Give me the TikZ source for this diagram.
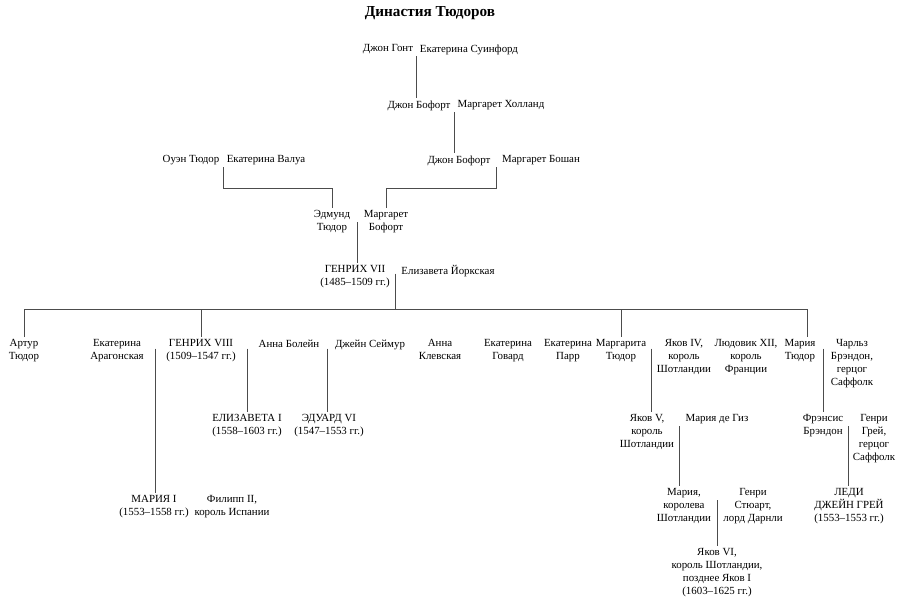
\documentclass[tikz,border=0pt]{standalone}
\usepackage{fontspec}
\setmainfont{Liberation Serif}
\usetikzlibrary{calc}

\tikzset{
	person/.style={anchor=north, align=center, inner sep=2pt, font=\fontsize{9.3}{11}\selectfont},
	bond/.style={draw=black!70, line width=0.8pt},
}

\begin{document}
\begin{tikzpicture}[x=0.03cm, y=-0.03cm]
		\useasboundingbox (0,0) rectangle (900,602);
		%\draw [help lines, step=50] (0,0) grid (900,602);
		\node [font=\bfseries\fontsize{13}{15}\selectfont] (title) at (430,13) {Династия Тюдоров};
		%Бофорты
		\node [person] (gaunt) at (388,42) {Джон Гонт};
		\node [person] (swynford) at (469,42) {Екатерина Суинфорд};
		\node [person] (beaufort1) at (419,98) {Джон Бофорт};
		\node [person] (holland) at (501,98) {Маргарет Холланд};
		\node [person] (beaufort2) at (459,153) {Джон Бофорт};
		\node [person] (beauchamp) at (541,153) {Маргарет Бошан};
		%Тюдоры
		\node [person] (owen) at (191,153) {Оуэн Тюдор};
		\node [person] (valois) at (266,153) {Екатерина Валуа};
		\node [person] (edmund) at (332,208) {Эдмунд\\Тюдор};
		\node [person] (margaretb) at (386,208) {Маргарет\\Бофорт};
		\node [person] (henry7) at (355,263) {ГЕНРИХ VII\\(1485–1509 гг.)};
		\node [person] (elizabethy) at (448,263) {Елизавета Йоркская};
		%дети Генриха VII
		\node [person] (arthur) at (24,337) {Артур\\Тюдор};
		\node [person] (catherinea) at (117,337) {Екатерина\\Арагонская};
		\node [person] (henry8) at (201,337) {ГЕНРИХ VIII\\(1509–1547 гг.)};
		\node [person] (boleyn) at (289,337) {Анна Болейн};
		\node [person] (seymour) at (370,337) {Джейн Сеймур};
		\node [person] (cleves) at (440,337) {Анна\\Клевская};
		\node [person] (howard) at (508,337) {Екатерина\\Говард};
		\node [person] (parr) at (568,337) {Екатерина\\Парр};
		\node [person] (margaret) at (621,337) {Маргарита\\Тюдор};
		\node [person] (james4) at (684,337) {Яков IV,\\король\\Шотландии};
		\node [person] (louis) at (746,337) {Людовик XII,\\король\\Франции};
		\node [person] (mary) at (800,337) {Мария\\Тюдор};
		\node [person] (brandon) at (852,337) {Чарльз\\Брэндон,\\герцог\\Саффолк};
		%внуки
		\node [person] (elizabeth1) at (247,412) {ЕЛИЗАВЕТА I\\(1558–1603 гг.)};
		\node [person] (edward6) at (329,412) {ЭДУАРД VI\\(1547–1553 гг.)};
		\node [person] (james5) at (647,412) {Яков V,\\король\\Шотландии};
		\node [person] (guise) at (717,412) {Мария де Гиз};
		\node [person] (frances) at (823,412) {Фрэнсис\\Брэндон};
		\node [person] (grey) at (874,412) {Генри\\Грей,\\герцог\\Саффолк};
		\node [person] (mary1) at (154,493) {МАРИЯ I\\(1553–1558 гг.)};
		\node [person] (philip) at (232,493) {Филипп II,\\король Испании};
		\node [person] (marys) at (684,486) {Мария,\\королева\\Шотландии};
		\node [person] (darnley) at (753,486) {Генри\\Стюарт,\\лорд Дарнли};
		\node [person] (janegrey) at (849,486) {ЛЕДИ\\ДЖЕЙН ГРЕЙ\\(1553–1553 гг.)};
		\node [person] (james6) at (717,546) {Яков VI,\\король Шотландии,\\позднее Яков I\\(1603–1625 гг.)};
		%браки
		\coordinate (c1) at ($(gaunt.north east)!0.5!(swynford.north west)$);
		\coordinate (c2) at ($(beaufort1.north east)!0.5!(holland.north west)$);
		\coordinate (c3) at ($(owen.north east)!0.5!(valois.north west)$);
		\coordinate (c4) at ($(beaufort2.north east)!0.5!(beauchamp.north west)$);
		\coordinate (c5) at ($(edmund.north east)!0.5!(margaretb.north west)$);
		\coordinate (c6) at ($(henry7.north east)!0.5!(elizabethy.north west)$);
		\coordinate (c7) at ($(catherinea.north east)!0.5!(henry8.north west)$);
		\coordinate (c8) at ($(henry8.north east)!0.5!(boleyn.north west)$);
		\coordinate (c9) at ($(boleyn.north east)!0.5!(seymour.north west)$);
		\coordinate (c10) at ($(margaret.north east)!0.5!(james4.north west)$);
		\coordinate (c11) at ($(mary.north east)!0.5!(brandon.north west)$);
		\coordinate (c12) at ($(james5.north east)!0.5!(guise.north west)$);
		\coordinate (c13) at ($(frances.north east)!0.5!(grey.north west)$);
		\coordinate (c14) at ($(marys.north east)!0.5!(darnley.north west)$);
		\coordinate (bus) at ([yshift=-40pt]c6);
		\coordinate (marytop) at ([xshift=6pt]mary.north);
		%линии
		\draw [bond] ([yshift=-12pt]c1) -- (c1 |- beaufort1.north);
		\draw [bond] ([yshift=-12pt]c2) -- (c2 |- beaufort2.north);
		\draw [bond] ([yshift=-12pt]c3) -- ([yshift=-30pt]c3) -| (edmund.north);
		\draw [bond] ([yshift=-12pt]c4) -- ([yshift=-30pt]c4) -| (margaretb.north);
		\draw [bond] ([yshift=-12pt]c5) -- (c5 |- henry7.north);
		\draw [bond] ([yshift=-9pt]c6) -- (bus);
		\draw [bond] (arthur.north) -- (arthur.north |- bus) -- (marytop |- bus) -- (marytop);
		\draw [bond] (henry8.north |- bus) -- (henry8.north);
		\draw [bond] (margaret.north |- bus) -- (margaret.north);
		\draw [bond] ([yshift=-10pt]c7) -- (c7 |- mary1.north);
		\draw [bond] ([yshift=-10pt]c8) -- (c8 |- elizabeth1.north);
		\draw [bond] ([yshift=-10pt]c9) -- (c9 |- edward6.north);
		\draw [bond] ([yshift=-10pt]c10) -- (c10 |- james5.north);
		\draw [bond] ([yshift=-10pt]c11) -- (c11 |- frances.north);
		\draw [bond] ([yshift=-12pt]c12) -- (c12 |- marys.north);
		\draw [bond] ([yshift=-12pt]c13) -- (c13 |- janegrey.north);
		\draw [bond] ([yshift=-12pt]c14) -- (c14 |- james6.north);
\end{tikzpicture}
\end{document}
